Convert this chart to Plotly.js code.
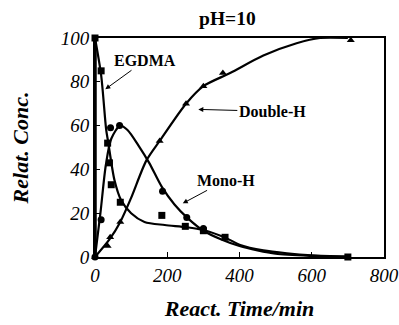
<!DOCTYPE html>
<html>
<head>
<meta charset="utf-8">
<script src="https://cdn.plot.ly/plotly-3.0.1.min.js"></script>
<style>
html,body{margin:0;padding:0;background:#fff;}
#chart{width:399px;height:325px;}
#chart .xtick text, #chart .ytick text{font-style:italic !important;}
</style>
</head>
<body>
<div id="chart"></div>
<script>
// Measured points
const egdmaT = [0, 17, 35, 40, 45, 70, 185, 250, 300, 360, 700];
const egdmaC = [100, 85, 52, 43, 33, 25, 19, 14, 12, 9, 0];
const monoT = [0, 17, 43, 68, 187, 254, 300];
const monoC = [0, 17, 59, 60, 30, 18, 13];
const doubleT = [0, 35, 42, 70, 179, 252, 300, 354, 708];
const doubleC = [0, 5, 9, 16, 53, 70, 78, 84, 99];
// Fitted curves
const egdmaFitT = [0, 17, 31, 36, 54, 72, 100, 137, 193, 254, 300, 365, 402, 466, 531, 600, 700];
const egdmaFitC = [100, 83, 58, 53, 35, 26, 20, 16, 14.6, 13.6, 12.3, 8.5, 5.5, 3, 1.7, 0.8, 0.3];
const monoFitT = [0, 15, 30, 45, 70, 90, 120, 150, 185, 220, 255, 300, 350, 400, 450, 500, 600, 700];
const monoFitC = [0, 20, 42, 54, 60, 58, 51, 43, 32, 24, 18, 12, 8, 5, 3, 1.5, 0.5, 0];
const doubleFitT = [0, 40, 70, 100, 142, 179, 252, 300, 374, 466, 558, 623, 700];
const doubleFitC = [0, 8, 16, 27, 44, 53, 70, 78, 84, 92, 97.6, 100, 100];

const xTicks = [0, 200, 400, 600, 800];
const yTicks = [0, 20, 40, 60, 80, 100];

const lineStyle = {color: '#000', width: 2.2, shape: 'spline', smoothing: 0.8};
const traces = [
  {x: egdmaFitT, y: egdmaFitC, mode: 'lines', line: lineStyle, hoverinfo: 'skip'},
  {x: monoFitT, y: monoFitC, mode: 'lines', line: lineStyle, hoverinfo: 'skip'},
  {x: doubleFitT, y: doubleFitC, mode: 'lines', line: lineStyle, hoverinfo: 'skip'},
  {x: egdmaT, y: egdmaC, mode: 'markers', marker: {symbol: 'square', size: 7, color: '#000'}, cliponaxis: false},
  {x: monoT, y: monoC, mode: 'markers', marker: {symbol: 'circle', size: 7, color: '#000'}, cliponaxis: false},
  {x: doubleT, y: doubleC, mode: 'markers', marker: {symbol: 'triangle-up', size: 7, color: '#000'}, cliponaxis: false}
];

const serif = 'Liberation Serif, Times New Roman, serif';
const annFont = {family: serif, size: 16, color: '#000', weight: 'bold'};
const arrowCommon = {showarrow: true, arrowhead: 2, arrowsize: 1, arrowwidth: 1, arrowcolor: '#000',
                     xref: 'x', yref: 'y', font: annFont};
const tickFont = {family: serif, size: 19, color: '#000', style: 'italic'};
const titleFont = {family: serif, size: 22, color: '#000', style: 'italic', weight: 'bold'};
const layout = {
  width: 399, height: 325,
  margin: {l: 95, r: 15, t: 38, b: 68},
  paper_bgcolor: '#fff', plot_bgcolor: '#fff',
  showlegend: false,
  title: {text: 'pH=10', x: 0.57, xanchor: 'center', y: 0.945, yanchor: 'middle',
          font: {family: serif, size: 19.5, color: '#000', weight: 'bold'}},
  xaxis: {range: [0, 800], tickvals: xTicks, ticktext: xTicks.map(String),
          ticks: 'inside', ticklen: 5, tickcolor: '#000', showgrid: false, zeroline: false,
          showline: true, mirror: true, linecolor: '#000', linewidth: 2,
          tickfont: tickFont,
          title: {text: 'React. Time/min', standoff: 16, font: titleFont}},
  yaxis: {range: [0, 100], tickvals: yTicks, ticktext: yTicks.map(String),
          ticks: 'inside', ticklen: 5, tickcolor: '#000', showgrid: false, zeroline: false,
          showline: true, mirror: true, linecolor: '#000', linewidth: 2,
          tickfont: tickFont,
          title: {text: 'Relat. Conc.', standoff: 26, font: titleFont}},
  shapes: [
    {type: 'line', xref: 'x', yref: 'paper', x0: 0, x1: 0, y0: 0, y1: 1, line: {color: '#000', width: 3.5}}
  ],
  annotations: [
    Object.assign({x: 28.5, y: 76.6, text: 'EGDMA', ax: 40, ay: -29}, arrowCommon),
    Object.assign({x: 286, y: 67.4, text: 'Double-H', ax: 74, ay: 2}, arrowCommon),
    Object.assign({x: 243, y: 24.5, text: 'Mono-H', ax: 43, ay: -23}, arrowCommon)
  ]
};
Plotly.newPlot('chart', traces, layout, {displayModeBar: false, staticPlot: true});
</script>
</body>
</html>
